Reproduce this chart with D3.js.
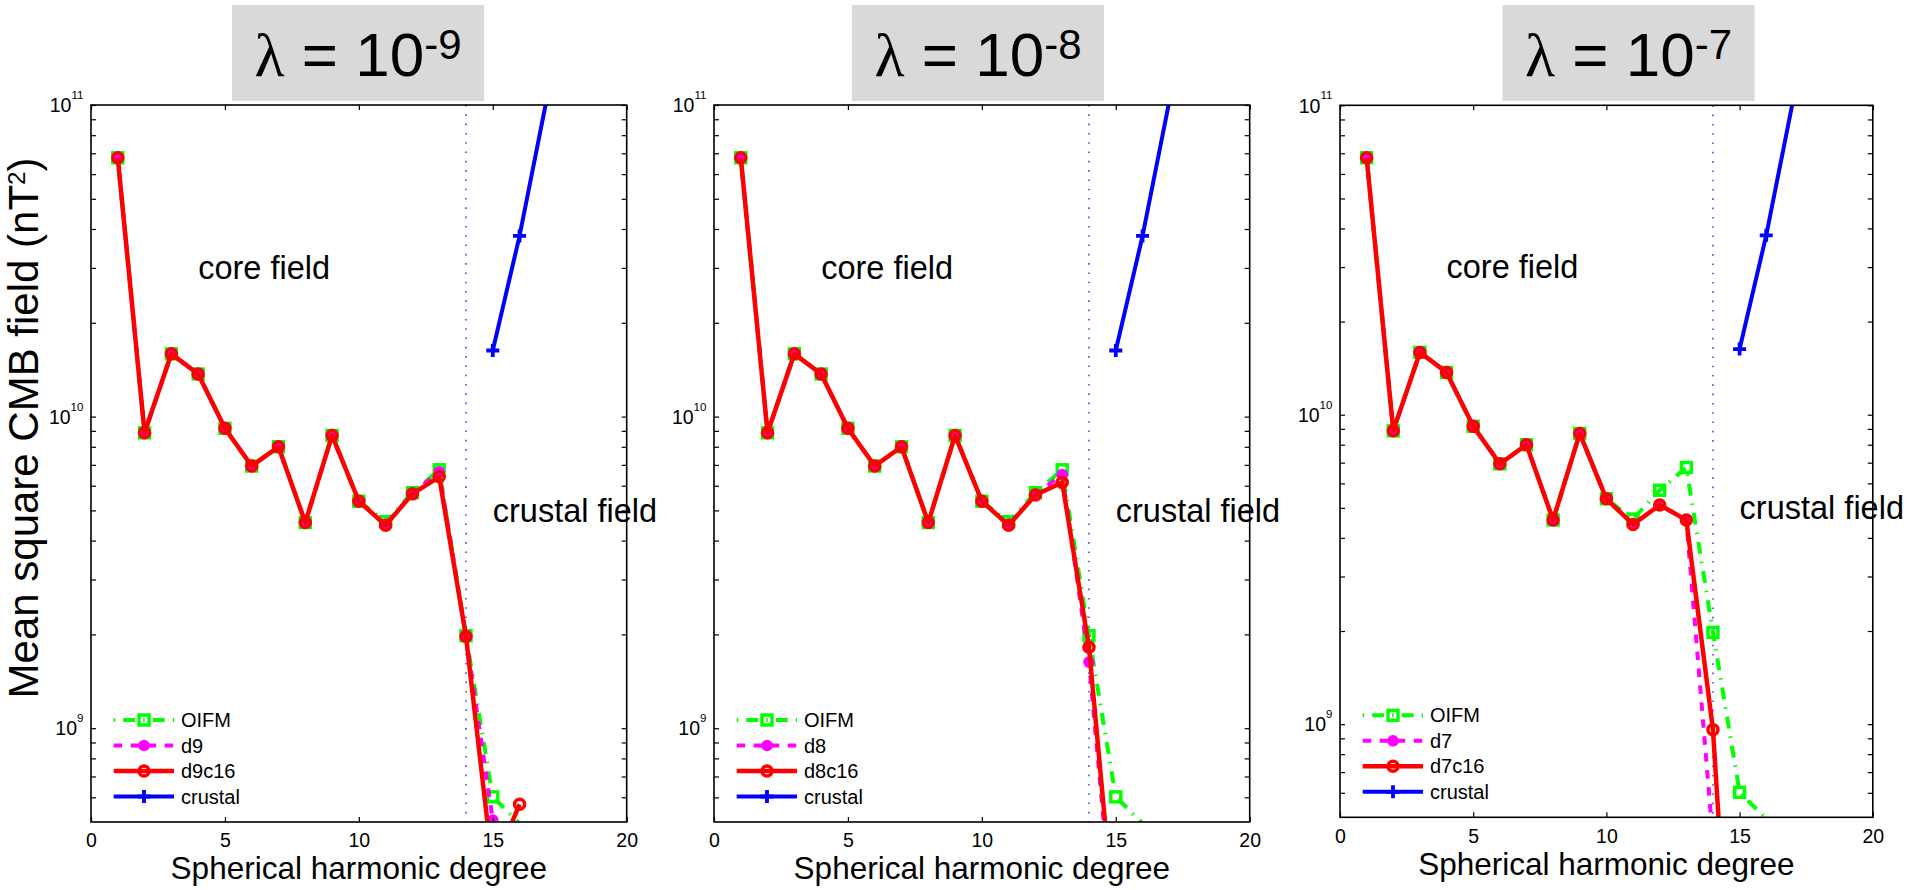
<!DOCTYPE html>
<html>
<head>
<meta charset="utf-8">
<script src="https://cdn.jsdelivr.net/npm/d3@7"></script>
<style>
  body { margin: 0; background: #fff; }
  svg { display: block; }
  text { font-family: "Liberation Sans", Arial, Helvetica, sans-serif; fill: #000; }
</style>
</head>
<body>
<div class="canvas"></div>
<script>
// ---- data ----
const degree = [1, 2, 3, 4, 5, 6, 7, 8, 9, 10, 11, 12, 13, 14, 15, 16];

const oifm  = [6.77e10, 8.87e9, 1.59e10, 1.37e10, 9.17e9, 6.94e9, 8.0e9, 4.57e9, 8.7e9, 5.35e9, 4.6e9, 5.7e9, 6.75e9, 1.98e9, 6.02e8, 4.95e8];

const d9    = [6.77e10, 8.87e9, 1.59e10, 1.37e10, 9.17e9, 6.94e9, 8.0e9, 4.57e9, 8.7e9, 5.35e9, 4.5e9, 5.67e9, 6.65e9, 1.97e9, 5.07e8];
const d9c16 = [6.77e10, 8.87e9, 1.59e10, 1.37e10, 9.17e9, 6.94e9, 8.0e9, 4.57e9, 8.7e9, 5.35e9, 4.48e9, 5.65e9, 6.41e9, 1.97e9, 3.55e8, 5.7e8];

const d8    = [6.77e10, 8.87e9, 1.59e10, 1.37e10, 9.17e9, 6.94e9, 8.0e9, 4.57e9, 8.7e9, 5.35e9, 4.5e9, 5.62e9, 6.52e9, 1.63e9, 1.9e8];
const d8c16 = [6.77e10, 8.87e9, 1.59e10, 1.37e10, 9.17e9, 6.94e9, 8.0e9, 4.57e9, 8.7e9, 5.35e9, 4.48e9, 5.6e9, 6.15e9, 1.82e9, 2.1e8];

const d7    = [6.77e10, 8.87e9, 1.59e10, 1.37e10, 9.17e9, 6.94e9, 8.0e9, 4.57e9, 8.7e9, 5.35e9, 4.42e9, 5.11e9, 4.57e9, 4.2e8];
const d7c16 = [6.77e10, 8.87e9, 1.59e10, 1.37e10, 9.17e9, 6.94e9, 8.0e9, 4.57e9, 8.7e9, 5.35e9, 4.42e9, 5.11e9, 4.57e9, 9.6e8, 4.2e7];

const crustalDegree = [15, 16, 17];
const crustal       = [1.63e10, 3.8e10, 1.03e11];

const lambdaExp = ['-9', '-8', '-7'];
const seriesNames = [
  ['OIFM', 'd9', 'd9c16', 'crustal'],
  ['OIFM', 'd8', 'd8c16', 'crustal'],
  ['OIFM', 'd7', 'd7c16', 'crustal']
];
const modelData = [[d9, d9c16], [d8, d8c16], [d7, d7c16]];

const xTicks = [0, 5, 10, 15, 20];
const yDecades = [1e9, 1e10, 1e11];
const yDecadeExp = ['9', '10', '11'];
const yMinor = [6e8, 7e8, 8e8, 9e8, 2e9, 3e9, 4e9, 5e9, 6e9, 7e9, 8e9, 9e9, 2e10, 3e10, 4e10, 5e10, 6e10, 7e10, 8e10, 9e10];
const coreBoundary = 14;

// ---- layout ----
const svg = d3.select('.canvas')
  .append('svg')
  .attr('width', 1909)
  .attr('height', 890);

// plot boxes, in pixels
const panels = [
  {left: 91,   right: 626.7,  top: 105,   bottom: 822,   boxX: 232},
  {left: 714,  right: 1249.7, top: 105,   bottom: 822,   boxX: 852},
  {left: 1340, right: 1872.8, top: 105.3, bottom: 817.3, boxX: 1502.5}
];

// line styles: OIFM, dN, dNc16, crustal
const styles = [
  {color: '#00ff00', dash: '1.5,8,12,8', width: 4,   marker: 'square'},
  {color: '#ff00ff', dash: '8.5,8.5',    width: 4,   marker: 'dot'},
  {color: '#ff0000', dash: null,         width: 4.5, marker: 'circle'},
  {color: '#0000ff', dash: null,         width: 4,   marker: 'plus'}
];

function drawMarker(g, type, cx, cy, color) {
  if (type === 'square') {
    g.append('rect').attr('x', cx - 5).attr('y', cy - 5)
      .attr('width', 10).attr('height', 10)
      .attr('fill', 'none').attr('stroke', color).attr('stroke-width', 3.4);
  } else if (type === 'dot') {
    g.append('circle').attr('cx', cx).attr('cy', cy).attr('r', 5.8).attr('fill', color);
  } else if (type === 'circle') {
    g.append('circle').attr('cx', cx).attr('cy', cy).attr('r', 5)
      .attr('fill', 'none').attr('stroke', color).attr('stroke-width', 3.5);
  } else if (type === 'plus') {
    g.append('path').attr('d', `M${cx - 6.5},${cy}H${cx + 6.5}M${cx},${cy - 6.5}V${cy + 6.5}`)
      .attr('stroke', color).attr('stroke-width', 3.8);
  }
}

function drawPanel(p, i) {
  const x = d3.scaleLinear().domain([0, 20]).range([p.left, p.right]);
  const y = d3.scaleLog().domain([5e8, 1e11]).range([p.bottom, p.top]);

  // title box
  svg.append('rect')
    .attr('x', p.boxX).attr('y', 5)
    .attr('width', 252).attr('height', 96)
    .attr('fill', '#d9d9d9');
  const title = svg.append('text')
    .attr('x', p.boxX + 126).attr('y', 76)
    .attr('text-anchor', 'middle')
    .attr('font-size', 62);
  title.append('tspan').style('font-family', '"Liberation Serif", "DejaVu Serif", serif').text('λ');
  title.append('tspan').text(' = 10');
  title.append('tspan').attr('dy', -17).attr('font-size', 42).text(lambdaExp[i]);

  // clip to the axes
  svg.append('clipPath').attr('id', 'clip' + i)
    .append('rect')
    .attr('x', p.left).attr('y', p.top)
    .attr('width', p.right - p.left).attr('height', p.bottom - p.top);
  const plot = svg.append('g').attr('clip-path', `url(#clip${i})`);

  // degree 14 boundary
  plot.append('line')
    .attr('x1', x(coreBoundary)).attr('x2', x(coreBoundary))
    .attr('y1', p.top).attr('y2', p.bottom)
    .attr('stroke', '#2a2aff').attr('stroke-width', 1.4)
    .attr('stroke-dasharray', '1.6,7.7');

  const series = [
    oifm.map((v, k) => [degree[k], v]),
    modelData[i][0].map((v, k) => [degree[k], v]),
    modelData[i][1].map((v, k) => [degree[k], v]),
    crustal.map((v, k) => [crustalDegree[k], v])
  ];

  const line = d3.line().x(d => x(d[0])).y(d => y(d[1]));
  const [ylo, yhi] = y.domain();

  series.forEach((pts, s) => {
    const st = styles[s];
    plot.append('path')
      .attr('d', line(pts))
      .attr('fill', 'none')
      .attr('stroke', st.color)
      .attr('stroke-width', st.width)
      .attr('stroke-linejoin', 'round')
      .attr('stroke-dasharray', st.dash);
    pts.filter(d => d[1] >= ylo && d[1] <= yhi)
      .forEach(d => drawMarker(plot, st.marker, x(d[0]), y(d[1]), st.color));
  });

  // axes: ticks inside on all four sides
  const tick = 5;
  const bottomAxis = svg.append('g')
    .attr('transform', `translate(0,${p.bottom})`)
    .call(d3.axisBottom(x).tickValues(xTicks).tickSize(-tick).tickPadding(11.5));
  bottomAxis.selectAll('text').attr('font-size', 19.5);

  svg.append('g')
    .attr('transform', `translate(0,${p.top})`)
    .call(d3.axisTop(x).tickValues(xTicks).tickSize(-tick).tickFormat(''));

  svg.append('g')
    .attr('transform', `translate(${p.left},0)`)
    .call(d3.axisLeft(y).tickValues(yDecades.concat(yMinor)).tickSize(-tick).tickFormat(''));
  svg.append('g')
    .attr('transform', `translate(${p.right},0)`)
    .call(d3.axisRight(y).tickValues(yDecades.concat(yMinor)).tickSize(-tick).tickFormat(''));

  svg.selectAll('.domain').remove();
  svg.selectAll('.tick line').attr('stroke', '#000').attr('stroke-width', 1.2);

  svg.append('rect')
    .attr('x', p.left).attr('y', p.top)
    .attr('width', p.right - p.left).attr('height', p.bottom - p.top)
    .attr('fill', 'none').attr('stroke', '#000').attr('stroke-width', 1.6);

  // y tick labels 10^n
  yDecades.forEach((v, k) => {
    const t = svg.append('text')
      .attr('x', p.left - 7.6).attr('y', y(v) + 7.3)
      .attr('text-anchor', 'end')
      .attr('font-size', 19.5);
    t.append('tspan').text('10');
    t.append('tspan').attr('dy', -13.3).attr('font-size', 11.5).text(yDecadeExp[k]);
  });

  // x label
  svg.append('text')
    .attr('x', (p.left + p.right) / 2).attr('y', p.bottom + 57.3)
    .attr('text-anchor', 'middle')
    .attr('font-size', 31.5)
    .text('Spherical harmonic degree');

  // region annotations
  svg.append('text')
    .attr('x', x(4)).attr('y', y(3e10)).attr('dy', '0.35em')
    .attr('font-size', 32.5)
    .text('core field');
  svg.append('text')
    .attr('x', x(15)).attr('y', y(5e9)).attr('dy', '0.35em')
    .attr('font-size', 32.5)
    .text('crustal field');

  // legend (no box)
  const rows = [-102, -76.5, -51, -25.5];
  const lg = svg.append('g').attr('transform', `translate(${p.left},${p.bottom})`);
  seriesNames[i].forEach((name, s) => {
    const st = styles[s];
    const ry = rows[s];
    lg.append('line')
      .attr('x1', 22.7).attr('x2', 83).attr('y1', ry).attr('y2', ry)
      .attr('stroke', st.color).attr('stroke-width', st.width)
      .attr('stroke-dasharray', st.dash);
    drawMarker(lg, st.marker, 53, ry, st.color);
    lg.append('text')
      .attr('x', 90).attr('y', ry + 7)
      .attr('font-size', 20)
      .text(name);
  });
}

panels.forEach(drawPanel);

// shared y label
const yl = svg.append('text')
  .attr('transform', 'translate(38,428) rotate(-90)')
  .attr('text-anchor', 'middle')
  .attr('font-size', 42);
yl.append('tspan').text('Mean square CMB field (nT');
yl.append('tspan').attr('dy', -13).attr('font-size', 24).text('2');
yl.append('tspan').attr('dy', 13).text(')');
</script>
</body>
</html>
